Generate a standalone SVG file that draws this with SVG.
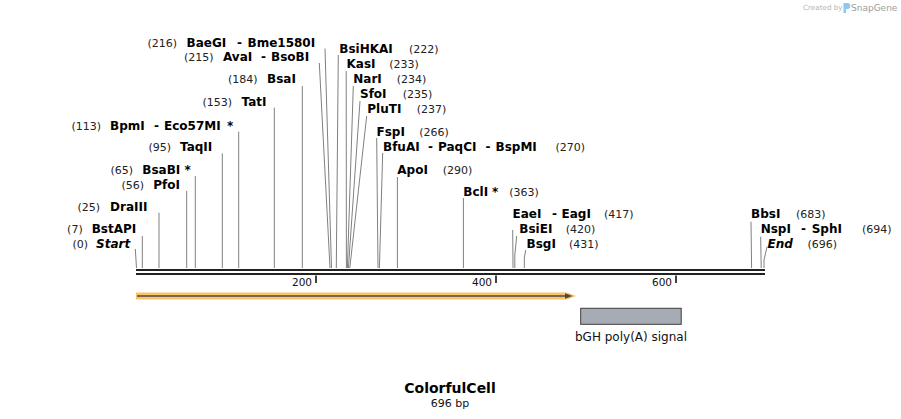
<svg xmlns="http://www.w3.org/2000/svg" width="901" height="419" viewBox="0 0 901 419">
<style>
.nm{font-family:"DejaVu Sans",Verdana,sans-serif;font-weight:bold;font-size:12px;fill:#000}
.bi{font-style:italic}
.num{font-family:"DejaVu Sans",Verdana,sans-serif;font-size:11px;fill:#222}
.site{stroke:#808080;stroke-width:1;fill:none}
.rule{stroke:#222;stroke-width:2.2}
.tick{stroke:#111;stroke-width:1.6}
.tl{font-family:"DejaVu Sans",Verdana,sans-serif;font-size:10.5px;fill:#111}
</style>
<rect width="901" height="419" fill="#fff"/>

<g id="logo">
<text x="803" y="10" font-family="DejaVu Sans,sans-serif" font-size="7.2" fill="#b5b5b5">Created by</text>
<path d="M843.5,3 h3.8 a3,3 0 0 1 0,6 h-1.3 v4 h-2.5 z" fill="#8cc8ef"/>
<text x="851" y="10.5" font-family="DejaVu Sans,sans-serif" font-size="9" fill="#9c9c9c">SnapGene</text>
</g>

<g id="connectors">
<path class="site" d="M135.3,249 L136.5,268"/>
<path class="site" d="M142.3,236 V268"/>
<path class="site" d="M159,212.7 V268"/>
<path class="site" d="M186.7,191 V268"/>
<path class="site" d="M195.3,176 V268"/>
<path class="site" d="M222.3,153.3 V268"/>
<path class="site" d="M238.7,131.7 V268"/>
<path class="site" d="M274.3,107.7 V268"/>
<path class="site" d="M302.3,86 V268"/>
<path class="site" d="M319.3,63 L330,268"/>
<path class="site" d="M325,48.5 L331.5,268"/>
<path class="site" d="M338.3,55 L336.3,268"/>
<path class="site" d="M346.2,71 L346.4,268"/>
<path class="site" d="M353.3,86 L347.4,268"/>
<path class="site" d="M360,101 L348.4,268"/>
<path class="site" d="M366.7,116 L349.8,268"/>
<path class="site" d="M376.7,138 L378,268"/>
<path class="site" d="M382.7,153 L379.4,268"/>
<path class="site" d="M397.4,177 V268"/>
<path class="site" d="M463.4,198 V268"/>
<path class="site" d="M512.7,230 L513,268"/>
<path class="site" d="M516.7,236 L514.8,255 V268"/>
<path class="site" d="M525.7,250 L524.3,258 V268"/>
<path class="site" d="M751,221.7 L751.6,268"/>
<path class="site" d="M760.7,236.7 L761.2,268"/>
<path class="site" d="M767,246.7 L764,260 V268"/>
</g>

<g id="ruler">
<line class="rule" x1="136" y1="270" x2="765" y2="270"/>
<line class="rule" x1="136" y1="274" x2="765" y2="274"/>
<line class="tick" x1="316" y1="275.5" x2="316" y2="283"/>
<line class="tick" x1="496" y1="275.5" x2="496" y2="283"/>
<line class="tick" x1="676" y1="275.5" x2="676" y2="283"/>
<text class="tl" x="312" y="286" text-anchor="end">200</text>
<text class="tl" x="492" y="286" text-anchor="end">400</text>
<text class="tl" x="672" y="286" text-anchor="end">600</text>
</g>

<g id="feature-arrow">
<polygon points="136,292.6 567,292.6 576,296 567,299.4 136,299.4" fill="#f9c46b"/>
<line x1="137" y1="296" x2="566" y2="296" stroke="#4d4a44" stroke-width="1.3"/>
<polygon points="565,293.2 572.5,296 565,298.8" fill="#4d4a44"/>
</g>

<g id="bGH-polyA">
<rect x="580.7" y="308.3" width="100.5" height="16" fill="#a7acb4" stroke="#3c3c3c" stroke-width="1"/>
<text x="631" y="341" text-anchor="middle" font-family="DejaVu Sans,sans-serif" font-size="12" fill="#111">bGH poly(A) signal</text>
</g>

<g id="title">
<text x="450" y="393" text-anchor="middle" font-family="DejaVu Sans,sans-serif" font-weight="bold" font-size="14" fill="#000">ColorfulCell</text>
<text x="450" y="407" text-anchor="middle" font-family="DejaVu Sans,sans-serif" font-size="11" fill="#111">696 bp</text>
</g>

<g id="site-BaeGI"><text class="num" x="177" y="47" text-anchor="end">(216)</text><text class="nm" y="47"><tspan x="186.5">BaeGI</tspan><tspan x="237">-</tspan><tspan x="247.5">Bme1580I</tspan></text></g>
<g id="site-AvaI"><text class="num" x="213.5" y="61" text-anchor="end">(215)</text><text class="nm" y="61"><tspan x="223">AvaI</tspan><tspan x="261">-</tspan><tspan x="271">BsoBI</tspan></text></g>
<g id="site-BsaI"><text class="num" x="257.5" y="83" text-anchor="end">(184)</text><text class="nm" x="267" y="83">BsaI</text></g>
<g id="site-TatI"><text class="num" x="232" y="106" text-anchor="end">(153)</text><text class="nm" x="241.5" y="106">TatI</text></g>
<g id="site-BpmI"><text class="num" x="101" y="130" text-anchor="end">(113)</text><text class="nm" y="130"><tspan x="110">BpmI</tspan><tspan x="154">-</tspan><tspan x="164">Eco57MI</tspan><tspan x="227">*</tspan></text></g>
<g id="site-TaqII"><text class="num" x="171" y="151" text-anchor="end">(95)</text><text class="nm" x="180" y="151">TaqII</text></g>
<g id="site-BsaBI"><text class="num" x="133" y="174" text-anchor="end">(65)</text><text class="nm" y="174"><tspan x="142.3">BsaBI</tspan><tspan x="184.5">*</tspan></text></g>
<g id="site-PfoI"><text class="num" x="144" y="189" text-anchor="end">(56)</text><text class="nm" x="153.3" y="189">PfoI</text></g>
<g id="site-DraIII"><text class="num" x="100" y="211" text-anchor="end">(25)</text><text class="nm" x="110" y="211">DraIII</text></g>
<g id="site-BstAPI"><text class="num" x="82.7" y="233" text-anchor="end">(7)</text><text class="nm" x="91.7" y="233">BstAPI</text></g>
<g id="site-Start"><text class="num" x="88" y="248" text-anchor="end">(0)</text><text class="nm bi" x="96" y="248">Start</text></g>

<g id="site-BsiHKAI"><text class="nm" x="339.3" y="53">BsiHKAI</text><text class="num" x="409" y="53">(222)</text></g>
<g id="site-KasI"><text class="nm" x="346.5" y="68">KasI</text><text class="num" x="389.3" y="68">(233)</text></g>
<g id="site-NarI"><text class="nm" x="353.3" y="83">NarI</text><text class="num" x="396.7" y="83">(234)</text></g>
<g id="site-SfoI"><text class="nm" x="360" y="98">SfoI</text><text class="num" x="402.7" y="98">(235)</text></g>
<g id="site-PluTI"><text class="nm" x="367.3" y="113">PluTI</text><text class="num" x="416.7" y="113">(237)</text></g>
<g id="site-FspI"><text class="nm" x="376.5" y="136">FspI</text><text class="num" x="419.3" y="136">(266)</text></g>
<g id="site-BfuAI"><text class="nm" y="151"><tspan x="383">BfuAI</tspan><tspan x="428">-</tspan><tspan x="438">PaqCI</tspan><tspan x="485.5">-</tspan><tspan x="495.5">BspMI</tspan></text><text class="num" x="555.5" y="151">(270)</text></g>
<g id="site-ApoI"><text class="nm" x="397.3" y="174">ApoI</text><text class="num" x="442.7" y="174">(290)</text></g>
<g id="site-BclI"><text class="nm" y="196"><tspan x="463.3">BclI</tspan><tspan x="492">*</tspan></text><text class="num" x="509.3" y="196">(363)</text></g>
<g id="site-EaeI"><text class="nm" y="218"><tspan x="512.5">EaeI</tspan><tspan x="552">-</tspan><tspan x="561.5">EagI</tspan></text><text class="num" x="604" y="218">(417)</text></g>
<g id="site-BsiEI"><text class="nm" x="519.3" y="233">BsiEI</text><text class="num" x="565.7" y="233">(420)</text></g>
<g id="site-BsgI"><text class="nm" x="526.5" y="248">BsgI</text><text class="num" x="569" y="248">(431)</text></g>
<g id="site-BbsI"><text class="nm" x="751" y="218">BbsI</text><text class="num" x="796" y="218">(683)</text></g>
<g id="site-NspI"><text class="nm" y="233"><tspan x="760.7">NspI</tspan><tspan x="801">-</tspan><tspan x="811.7">SphI</tspan></text><text class="num" x="862" y="233">(694)</text></g>
<g id="site-End"><text class="nm bi" x="767.5" y="248">End</text><text class="num" x="807.5" y="248">(696)</text></g>
</svg>
